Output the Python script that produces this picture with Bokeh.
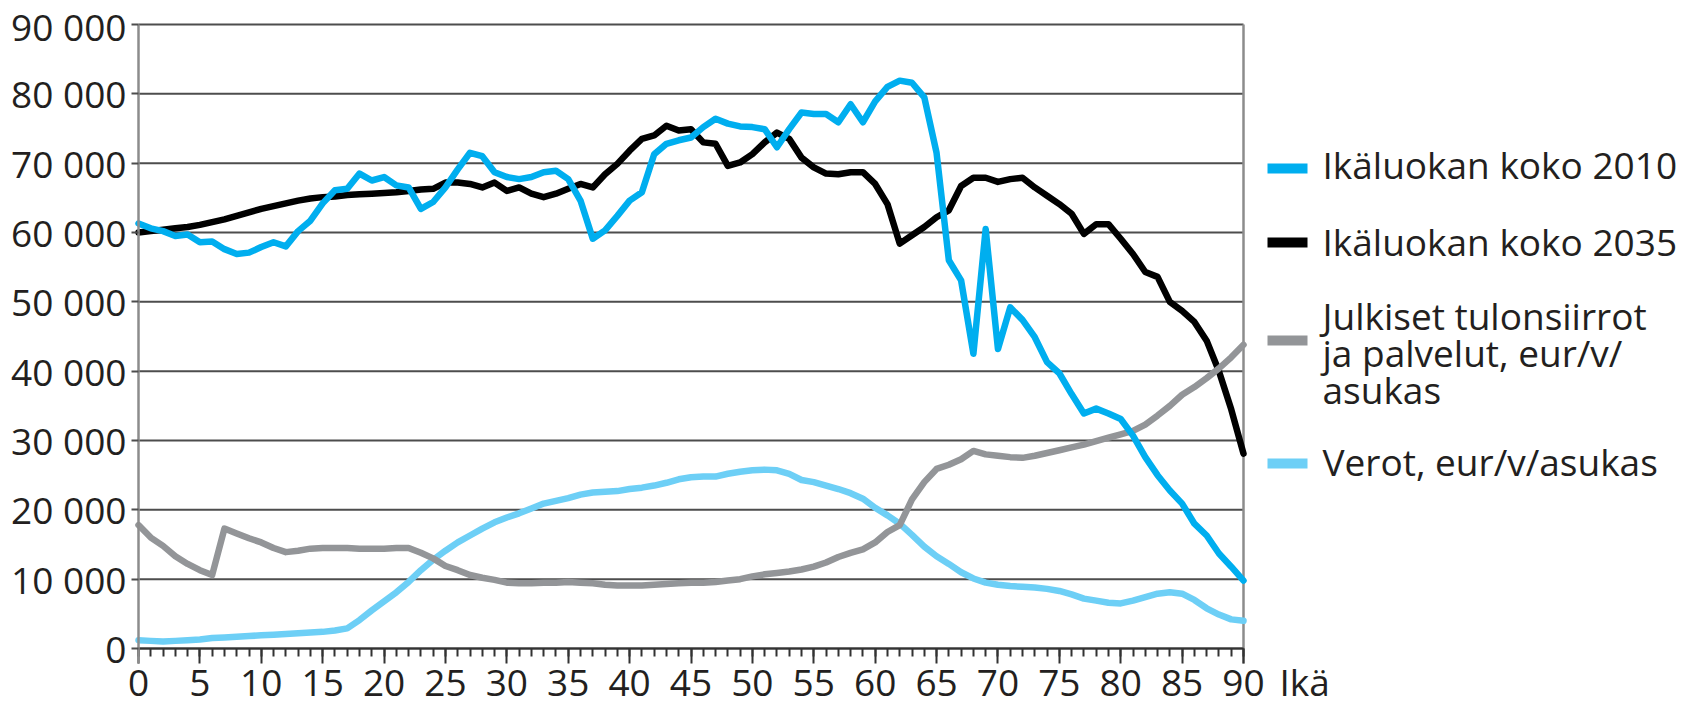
from bokeh.plotting import figure
from bokeh.models import Range1d, FixedTicker
from bokeh.embed import file_html
from bokeh.resources import INLINE
from bokeh.core.properties import value

# ---------------- data ----------------
ages = list(range(91))

koko_2010 = [61300, 60600, 60200, 59500, 59700, 58600, 58700, 57600, 56900, 57100,
             57900, 58600, 58000, 60200, 61700, 64200, 66100, 66300, 68500, 67500,
             68000, 66800, 66500, 63400, 64400, 66500, 69100, 71500, 71000, 68700,
             68000, 67700, 68000, 68700, 68900, 67700, 64600, 59100, 60300, 62400,
             64600, 65800, 71300, 72800, 73300, 73700, 75200, 76400, 75700, 75300,
             75200, 74900, 72300, 74900, 77300, 77100, 77100, 75900, 78500, 75900,
             78900, 81000, 81900, 81600, 79500, 71500, 56000, 53100, 42500, 60500,
             43200, 49200, 47400, 44900, 41300, 39700, 36700, 33900, 34600, 33900,
             33100, 30700, 27600, 25000, 22800, 20900, 18000, 16300, 13700, 11800,
             9800]

koko_2035 = [60000, 60200, 60400, 60600, 60800, 61100, 61500, 61900, 62400, 62900,
             63400, 63800, 64200, 64600, 64900, 65100, 65200, 65400, 65500, 65600,
             65700, 65800, 66000, 66200, 66300, 67200, 67200, 67000, 66500, 67200,
             66000, 66500, 65600, 65100, 65600, 66300, 67000, 66500, 68400, 69900,
             71800, 73500, 74000, 75400, 74700, 74900, 73000, 72800, 69600, 70100,
             71300, 73000, 74400, 73500, 70800, 69400, 68500, 68400, 68700, 68700,
             67000, 64100, 58400, 59600, 60800, 62200, 63200, 66700, 67900, 67900,
             67300, 67700, 67900, 66500, 65300, 64100, 62700, 59800, 61200, 61200,
             59100, 56900, 54300, 53600, 50000, 48700, 47100, 44400, 40000, 34500,
             28100]

julkiset = [17800, 16000, 14800, 13300, 12200, 11300, 10600, 17300, 16600, 15900,
            15300, 14500, 13900, 14100, 14400, 14500, 14500, 14500, 14400, 14400,
            14400, 14500, 14500, 13800, 13000, 11900, 11300, 10600, 10200, 9900,
            9500, 9400, 9400, 9500, 9500, 9600, 9500, 9400, 9200, 9100,
            9100, 9100, 9200, 9300, 9400, 9500, 9500, 9600, 9800, 10000,
            10400, 10700, 10900, 11100, 11400, 11800, 12400, 13200, 13800, 14300,
            15300, 16800, 17800, 21500, 24000, 25900, 26500, 27300, 28500, 28000,
            27800, 27600, 27500, 27800, 28200, 28600, 29000, 29400, 29900, 30400,
            30900, 31400, 32300, 33600, 35000, 36600, 37700, 39000, 40400, 42000,
            43800]

verot = [1200, 1100, 1000, 1100, 1200, 1300, 1500, 1600, 1700, 1800,
         1900, 2000, 2100, 2200, 2300, 2400, 2600, 2900, 4100, 5500,
         6800, 8100, 9600, 11300, 12800, 14100, 15300, 16300, 17300, 18200,
         18900, 19500, 20200, 20900, 21300, 21700, 22200, 22500, 22600, 22700,
         23000, 23200, 23500, 23900, 24400, 24700, 24800, 24800, 25200, 25500,
         25700, 25800, 25700, 25200, 24300, 24000, 23500, 23000, 22400, 21600,
         20300, 19200, 18000, 16400, 14700, 13300, 12200, 11000, 10100, 9500,
         9200, 9000, 8900, 8800, 8600, 8300, 7800, 7200, 6900, 6600,
         6500, 6900, 7400, 7900, 8100, 7900, 7000, 5800, 4900, 4200,
         4000]

series_labels = ["Ikäluokan koko 2010",
                 "Ikäluokan koko 2035",
                 "Julkiset tulonsiirrot\nja palvelut, eur/v/\nasukas",
                 "Verot, eur/v/asukas"]
series_colors = ["#00AEEF", "#000000", "#939598", "#6DCFF6"]

y_ticks = [0, 10000, 20000, 30000, 40000, 50000, 60000, 70000, 80000, 90000]
y_tick_labels = ["0", "10 000", "20 000", "30 000", "40 000", "50 000",
                 "60 000", "70 000", "80 000", "90 000"]
x_ticks = list(range(0, 91, 5))
x_axis_label = "Ikä"

X_MIN, X_MAX = 0, 90
Y_MIN, Y_MAX = 0, 90000

# ---------------- geometry / style ----------------
FONT = "Open Sans"
FS = "37px"
TXT = "#231F20"
GRID = "#4D4D4D"
AXIS_GRAY = "#8C8C8C"

W, H = 1697, 709
# canvas pixel positions of the value area (x 0..90, y 0..90 000)
PL, PR, PT, PB = 138, 1243, 24, 648
PX_X = (PR - PL) / (X_MAX - X_MIN)
PX_Y = (PB - PT) / (Y_MAX - Y_MIN)
TEXT_SHIFT = 16   # text glyph baseline correction (px)


def sx(px):
    """canvas x pixel -> data x"""
    return X_MIN + (px - PL) / PX_X


def sy(py):
    """canvas y pixel -> data y"""
    return Y_MIN + (PB - py) / PX_Y


# The frame covers the whole canvas; both axes are pinned at 0 so that
# the legend and the axis title can be drawn as ordinary glyphs.
p = figure(width=W, height=H,
           x_range=Range1d(sx(0), sx(W)), y_range=Range1d(sy(H), sy(0)),
           output_backend="svg", toolbar_location=None,
           min_border_left=0, min_border_right=0,
           min_border_top=0, min_border_bottom=0)
p.outline_line_color = None
p.grid.visible = False

# horizontal grid lines across the value area only
p.segment(x0=[X_MIN] * len(y_ticks), x1=[X_MAX] * len(y_ticks), y0=y_ticks, y1=y_ticks,
          line_color=GRID, line_width=2)

# y axis pinned at x = 0
p.yaxis.fixed_location = X_MIN
p.yaxis.ticker = FixedTicker(ticks=y_ticks)
p.yaxis.major_label_overrides = {float(t): l for t, l in zip(y_ticks, y_tick_labels)}
p.yaxis.bounds = (sy(PB + 15), Y_MAX)
p.yaxis.axis_line_color = AXIS_GRAY
p.yaxis.axis_line_width = 2.5
p.yaxis.major_tick_line_color = GRID
p.yaxis.major_tick_line_width = 2
p.yaxis.major_tick_in = 0
p.yaxis.major_tick_out = 7
p.yaxis.minor_tick_line_color = None
p.yaxis.major_label_standoff = 5
p.yaxis.major_label_text_font = FONT
p.yaxis.major_label_text_font_size = FS
p.yaxis.major_label_text_color = TXT

# x axis pinned at y = 0
p.xaxis.fixed_location = Y_MIN
p.xaxis.bounds = (X_MIN, X_MAX)
p.xaxis.ticker = FixedTicker(ticks=x_ticks, minor_ticks=ages)
p.xaxis.axis_line_color = "#333333"
p.xaxis.axis_line_width = 2
p.xaxis.major_tick_line_color = "#333333"
p.xaxis.major_tick_line_width = 2
p.xaxis.major_tick_in = 0
p.xaxis.major_tick_out = 15
p.xaxis.minor_tick_line_color = "#333333"
p.xaxis.minor_tick_line_width = 2
p.xaxis.minor_tick_in = 0
p.xaxis.minor_tick_out = 8
p.xaxis.major_label_standoff = 6
p.xaxis.major_label_text_font = FONT
p.xaxis.major_label_text_font_size = FS
p.xaxis.major_label_text_color = TXT

# right border of the value area
p.segment(x0=[X_MAX], x1=[X_MAX], y0=[sy(PB + 15)], y1=[Y_MAX],
          line_color=AXIS_GRAY, line_width=2.5)

series = [koko_2010, koko_2035, julkiset, verot]
for i in [3, 1, 2, 0]:
    p.line(ages, series[i], line_color=series_colors[i], line_width=6.5,
           line_join="round", line_cap="round")

# ---------------- legend ----------------
sample_py = [168, 242, 340, 463]
p.segment(x0=[sx(1267)] * 4, x1=[sx(1307)] * 4,
          y0=[sy(v) for v in sample_py], y1=[sy(v) for v in sample_py],
          line_color=series_colors, line_width=10, line_cap="butt")

first_baseline = [180, 257, 331, 477]
LINE_H = 37
tx, ty, tt = [], [], []
for lab, b in zip(series_labels, first_baseline):
    for k, line in enumerate(lab.split("\n")):
        tx.append(sx(1322))
        ty.append(sy(b + k * LINE_H - TEXT_SHIFT))
        tt.append(line)
p.text(x=tx, y=ty, text=tt, text_font=value(FONT), text_font_size=FS,
       text_color=TXT, text_baseline="alphabetic", text_align="left")

# axis title "Ikä" to the right of the last tick label
p.text(x=[sx(1279)], y=[sy(697 - TEXT_SHIFT)], text=[x_axis_label], text_font=value(FONT),
       text_font_size=FS, text_color=TXT, text_baseline="alphabetic", text_align="left")

open("out.html", "w").write(file_html(p, INLINE))
